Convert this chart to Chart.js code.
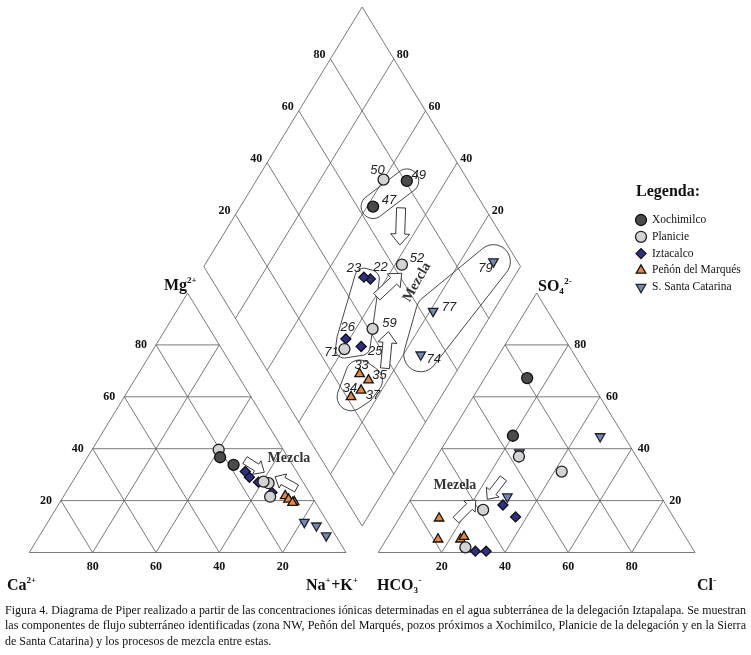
<!DOCTYPE html>
<html>
<head>
<meta charset="utf-8">
<script src="https://cdn.jsdelivr.net/npm/chart.js@4.4.0/dist/chart.umd.min.js"></script>
<style>
  html, body { margin: 0; padding: 0; background: #fff; }
  #wrap { position: relative; width: 751px; height: 655px; overflow: hidden; }
  #piper { position: absolute; left: 0; top: 0; }
  #caption { position: absolute; left: 5px; top: 603px; font-family: "Liberation Serif", serif; font-size: 12.5px; line-height: 15.3px; color: #111; }
  #caption div { white-space: nowrap; height: 15.3px; }
  #caption span { display: inline-block; transform-origin: 0 0; }
</style>
</head>
<body>
<div id="wrap">
  <canvas id="piper" width="751" height="655"></canvas>
  <div id="caption">
    <div><span>Figura 4. Diagrama de Piper realizado a partir de las concentraciones iónicas determinadas en el agua subterránea de la delegación Iztapalapa. Se muestran</span></div>
    <div><span>las componentes de flujo subterráneo identificadas (zona NW, Peñón del Marqués, pozos próximos a Xochimilco, Planicie de la delegación y en la Sierra</span></div>
    <div><span>de Santa Catarina) y los procesos de mezcla entre estas.</span></div>
  </div>
</div>
<script>
// grupos de muestras
const groupNames = ["Xochimilco", "Planicie", "Iztacalco", "Peñón del Marqués", "S. Santa Catarina"]

// muestras (% meq): cationes Mg y Na+K, aniones SO4 y Cl
const sampleIds = ["47", "49", "50", "52", "59", "71", "22", "23", "25", "26", "33", "34", "35", "37", "74", "77", "79"]
const sampleGroup = [0, 0, 1, 1, 1, 1, 2, 2, 2, 2, 3, 3, 3, 3, 4, 4, 4]
const mgPct = [36.7, 33.8, 39.6, 26.7, 21.5, 27.3, 29.0, 31.2, 23.1, 27.1, 21.8, 20.5, 19.5, 19.2, 10.3, 11.7, 6.5]
const nakPct = [41.9, 47.6, 40.0, 62.2, 65.3, 60.3, 55.0, 52.6, 65.1, 58.8, 69.9, 71.6, 73.9, 73.5, 85.5, 81.0, 90.5]
const so4Pct = [45.0, 67.2, 31.2, 37.0, 16.4, 2.0, 13.7, 18.3, 0.5, 0.5, 5.1, 5.1, 6.1, 13.2, 21.5, 38.5, 44.7]
const clPct = [20.0, 13.4, 42.3, 25.9, 24.9, 26.5, 36.5, 30.2, 33.8, 30.4, 23.4, 16.3, 24.0, 12.6, 30.0, 25.3, 47.7]

// etiquetas de los ejes
const gridSteps = [20, 40, 60, 80]

// geometría del diagrama (unidades: % del lado / % de la altura)
const W = 751, H = 655
const X0 = 29.3, KX = 3.167, Y0 = 552.5, KY = 2.595
const GAP = 10.2

const groupStyle = [
  { pointStyle: "circle", radius: 5.5, bg: "#4b4b4b", border: "#111" },
  { pointStyle: "circle", radius: 5.5, bg: "#d3d3d3", border: "#222" },
  { pointStyle: "rectRot", radius: 5, bg: "#2f2f88", border: "#111" },
  { pointStyle: "triangle", radius: 5.5, bg: "#e9883c", border: "#111", rot: 0 },
  { pointStyle: "triangle", radius: 5.5, bg: "#7089bd", border: "#222", rot: 180 },
]

// posición de los números de muestra respecto al punto del rombo (px)
const labelOffsets = {
  "50": [-6, -9], "49": [12, -6], "47": [16, -6], "52": [15, -6], "23": [-10, -9], "22": [10, -12],
  "26": [2, -12], "25": [14, 5], "59": [17, -5], "71": [-13, 3], "33": [2, -9], "35": [11, -5],
  "34": [-1, -8], "37": [12, 5], "79": [-8, 7], "77": [16, -4], "74": [13, 5],
}

// flechas de mezcla (unidades del gráfico)
const arrows = [
  { from: [117.4, 132.8], to: [117.0, 118.5], big: true },
  { from: [109.7, 98.6], to: [117.6, 107.6], big: true },
  { from: [112.3, 71.0], to: [113.4, 85.1], big: true },
  { from: [68.1, 35.6], to: [74.2, 30.9], big: false },
  { from: [84.4, 24.7], to: [77.6, 29.2], big: false },
  { from: [134.7, 12.5], to: [141.0, 20.2], big: false },
  { from: [149.7, 28.6], to: [144.6, 20.5], big: false },
]
const mixLabels = [
  { text: "Mezcla", at: [82.0, 36.4], rot: 0 },
  { text: "Mezela", at: [134.4, 26.0], rot: 0 },
  { text: "Mezcla", at: [122.4, 104.2], rot: -60 },
]
const envelopeGroups = [
  { ids: ["47", "49"], r: 12 },
  { ids: ["22", "23", "26", "25", "71"], r: 9 },
  { ids: ["33", "34", "35", "37"], r: 14 },
  { ids: ["74", "77", "79"], r: 17 },
]

function cat(mg, nak) { return { x: nak + mg / 2, y: mg } }
function ani(so4, cl) { return { x: 100 + GAP + cl + so4 / 2, y: so4 } }
function dia(nak, s) { return { x: (nak + 100 + GAP + s) / 2, y: 100 + GAP + s - nak } }

// rejilla
const grid = []
function seg(a, b) { grid.push(a, b, { x: null, y: null }) }
for (let k = 0; k < 100; k += 20) {
  seg(cat(k, 0), cat(k, 100 - k))
  seg(cat(0, k), cat(100 - k, k))
  seg(cat(0, 100 - k), cat(100 - k, 0))
  seg(ani(k, 0), ani(k, 100 - k))
  seg(ani(0, k), ani(100 - k, k))
  seg(ani(0, 100 - k), ani(100 - k, 0))
}
for (let k = 0; k <= 100; k += 20) {
  seg(dia(k, 0), dia(k, 100))
  seg(dia(0, k), dia(100, k))
}

const datasets = [{
  type: "line", data: grid, showLine: true, spanGaps: false, pointRadius: 0,
  borderColor: "#626262", borderWidth: 0.85, order: 10,
}]

groupNames.forEach(function (name, gi) {
  const pts = []
  sampleIds.forEach(function (id, i) {
    if (sampleGroup[i] !== gi) return
    pts.push(cat(mgPct[i], nakPct[i]), ani(so4Pct[i], clPct[i]), dia(nakPct[i], so4Pct[i] + clPct[i]))
  })
  const st = groupStyle[gi]
  datasets.push({
    label: name, data: pts, pointStyle: st.pointStyle, pointRadius: st.radius,
    pointRotation: st.rot || 0, backgroundColor: st.bg, borderColor: st.border,
    borderWidth: 1.3, order: 1,
  })
})

function hull(p) {
  p = p.slice().sort((a, b) => a[0] - b[0] || a[1] - b[1])
  const cross = (o, a, b) => (a[0] - o[0]) * (b[1] - o[1]) - (a[1] - o[1]) * (b[0] - o[0])
  const lo = [], up = []
  for (const q of p) { while (lo.length >= 2 && cross(lo[lo.length - 2], lo[lo.length - 1], q) <= 0) lo.pop(); lo.push(q) }
  for (const q of p.slice().reverse()) { while (up.length >= 2 && cross(up[up.length - 2], up[up.length - 1], q) <= 0) up.pop(); up.push(q) }
  return lo.slice(0, -1).concat(up.slice(0, -1))
}

function blockArrow(ctx, x1, y1, x2, y2, shaft, head, headLen) {
  const L = Math.hypot(x2 - x1, y2 - y1), ux = (x2 - x1) / L, uy = (y2 - y1) / L, nx = -uy, ny = ux
  const bx = x2 - ux * headLen, by = y2 - uy * headLen
  const p = [
    [x1 + nx * shaft / 2, y1 + ny * shaft / 2], [bx + nx * shaft / 2, by + ny * shaft / 2],
    [bx + nx * head / 2, by + ny * head / 2], [x2, y2], [bx - nx * head / 2, by - ny * head / 2],
    [bx - nx * shaft / 2, by - ny * shaft / 2], [x1 - nx * shaft / 2, y1 - ny * shaft / 2],
  ]
  ctx.beginPath()
  p.forEach((q, i) => i ? ctx.lineTo(q[0], q[1]) : ctx.moveTo(q[0], q[1]))
  ctx.closePath()
  ctx.fillStyle = "#fff"
  ctx.fill()
  ctx.strokeStyle = "#222"
  ctx.lineWidth = 0.9
  ctx.stroke()
}

// texto con super/subíndices: partes [texto, tipo]
function richText(ctx, x, y, parts, size) {
  let cx = x
  parts.forEach(function (p) {
    const t = p[0], kind = p[1] || ""
    if (kind === "") {
      ctx.font = "bold " + size + "px 'Liberation Serif'"
      ctx.fillText(t, cx, y)
      cx += ctx.measureText(t).width
    } else {
      ctx.font = "bold " + Math.round(size * 0.55) + "px 'Liberation Serif'"
      ctx.fillText(t, cx, kind === "sup" ? y - size * 0.42 : y + size * 0.18)
      cx += ctx.measureText(t).width + 0.5
    }
  })
}

function drawMarker(ctx, gi, x, y) {
  const st = groupStyle[gi]
  Chart.helpers.drawPoint(ctx, { pointStyle: st.pointStyle, radius: st.radius, rotation: st.rot || 0, borderWidth: 1.3 }, x, y)
}

const decor = {
  id: "decor",
  afterDatasetDraw(chart, args) {
    if (args.index !== 0) return
    const ctx = chart.ctx, sx = chart.scales.x, sy = chart.scales.y
    const px = v => sx.getPixelForValue(v), py = v => sy.getPixelForValue(v)
    ctx.save()
    // envolventes
    envelopeGroups.forEach(function (env) {
      const pts = []
      env.ids.forEach(function (id) {
        const i = sampleIds.indexOf(id)
        const d = dia(nakPct[i], so4Pct[i] + clPct[i])
        const cx = px(d.x), cy = py(d.y)
        for (let a = 0; a < 24; a++) pts.push([cx + env.r * Math.cos(a * Math.PI / 12), cy + env.r * Math.sin(a * Math.PI / 12)])
      })
      const h = hull(pts)
      ctx.beginPath()
      h.forEach((q, i) => i ? ctx.lineTo(q[0], q[1]) : ctx.moveTo(q[0], q[1]))
      ctx.closePath()
      ctx.strokeStyle = "#333"
      ctx.lineWidth = 0.9
      ctx.stroke()
    })
    // flechas
    arrows.forEach(function (a) {
      blockArrow(ctx, px(a.from[0]), py(a.from[1]), px(a.to[0]), py(a.to[1]),
        a.big ? 9 : 8, a.big ? 19 : 16, a.big ? 11 : 9)
    })
    ctx.restore()
  },
  afterDatasetsDraw(chart) {
    const ctx = chart.ctx, sx = chart.scales.x, sy = chart.scales.y
    const px = v => sx.getPixelForValue(v), py = v => sy.getPixelForValue(v)
    ctx.save()
    ctx.fillStyle = "#111"
    ctx.font = "bold 12px 'Liberation Serif'"
    ctx.textBaseline = "middle"
    gridSteps.forEach(function (k) {
      let p
      ctx.textAlign = "center"
      p = cat(0, k); ctx.fillText(String(100 - k), px(p.x), py(p.y) + 14)
      p = ani(0, k); ctx.fillText(String(k), px(p.x), py(p.y) + 14)
      ctx.textAlign = "right"
      p = cat(k, 0); ctx.fillText(String(k), px(p.x) - 9, py(p.y))
      p = dia(0, k); ctx.fillText(String(k), px(p.x) - 5, py(p.y) - 4)
      ctx.textAlign = "left"
      p = ani(k, 100 - k); ctx.fillText(String(k), px(p.x) + 6, py(p.y))
      p = dia(k, 100); ctx.fillText(String(100 - k), px(p.x) + 3, py(p.y) - 4)
    })
    // nombres de los iones
    ctx.textAlign = "left"
    ctx.textBaseline = "alphabetic"
    richText(ctx, 164, 290, [["Mg"], ["2+", "sup"]], 16)
    richText(ctx, 538, 291, [["SO"], ["4", "sub"], ["2-", "sup"]], 16)
    richText(ctx, 7, 590, [["Ca"], ["2+", "sup"]], 16)
    richText(ctx, 306, 590, [["Na"], ["+", "sup"], ["+K"], ["+", "sup"]], 16)
    richText(ctx, 377, 590, [["HCO"], ["3", "sub"], ["-", "sup"]], 16)
    richText(ctx, 697, 590, [["Cl"], ["-", "sup"]], 16)
    // mezcla
    ctx.fillStyle = "#333"
    ctx.font = "bold 14px 'Liberation Serif'"
    ctx.textAlign = "center"
    ctx.textBaseline = "middle"
    mixLabels.forEach(function (m) {
      ctx.save()
      ctx.translate(px(m.at[0]), py(m.at[1]))
      ctx.rotate(m.rot * Math.PI / 180)
      ctx.fillText(m.text, 0, 0)
      ctx.restore()
    })
    // números de muestra
    ctx.fillStyle = "#222"
    ctx.font = "italic 13px 'Liberation Sans'"
    sampleIds.forEach(function (id, i) {
      const d = dia(nakPct[i], so4Pct[i] + clPct[i])
      const o = labelOffsets[id]
      ctx.fillText(id, px(d.x) + o[0], py(d.y) + o[1])
    })
    // leyenda
    ctx.fillStyle = "#111"
    ctx.textAlign = "left"
    ctx.font = "bold 16px 'Liberation Serif'"
    ctx.fillText("Legenda:", 636, 192)
    ctx.font = "11.5px 'Liberation Serif'"
    groupNames.forEach(function (name, gi) {
      const y = 220 + gi * 16.8
      const st = groupStyle[gi]
      ctx.fillStyle = st.bg
      ctx.strokeStyle = st.border
      ctx.lineWidth = 1.3
      drawMarker(ctx, gi, 641, y)
      ctx.fillStyle = "#111"
      ctx.fillText(name, 652, y)
    })
    ctx.restore()
  },
}

new Chart(document.getElementById("piper").getContext("2d"), {
  type: "scatter",
  data: { datasets: datasets },
  options: {
    responsive: false,
    animation: false,
    devicePixelRatio: 1,
    layout: { padding: 0, autoPadding: false },
    plugins: { legend: { display: false }, tooltip: { enabled: false } },
    scales: {
      x: { type: "linear", display: false, min: -X0 / KX, max: (W - X0) / KX },
      y: { type: "linear", display: false, min: -(H - Y0) / KY, max: Y0 / KY },
    },
  },
  plugins: [decor],
})

// ajuste del pie de figura al ancho
const spans = document.querySelectorAll("#caption span")
const fit = 741 / spans[0].getBoundingClientRect().width
spans.forEach(function (s, i) {
  const f = i === 1 ? 741 / s.getBoundingClientRect().width : fit
  s.style.transform = "scaleX(" + f + ")"
})
</script>
</body>
</html>
